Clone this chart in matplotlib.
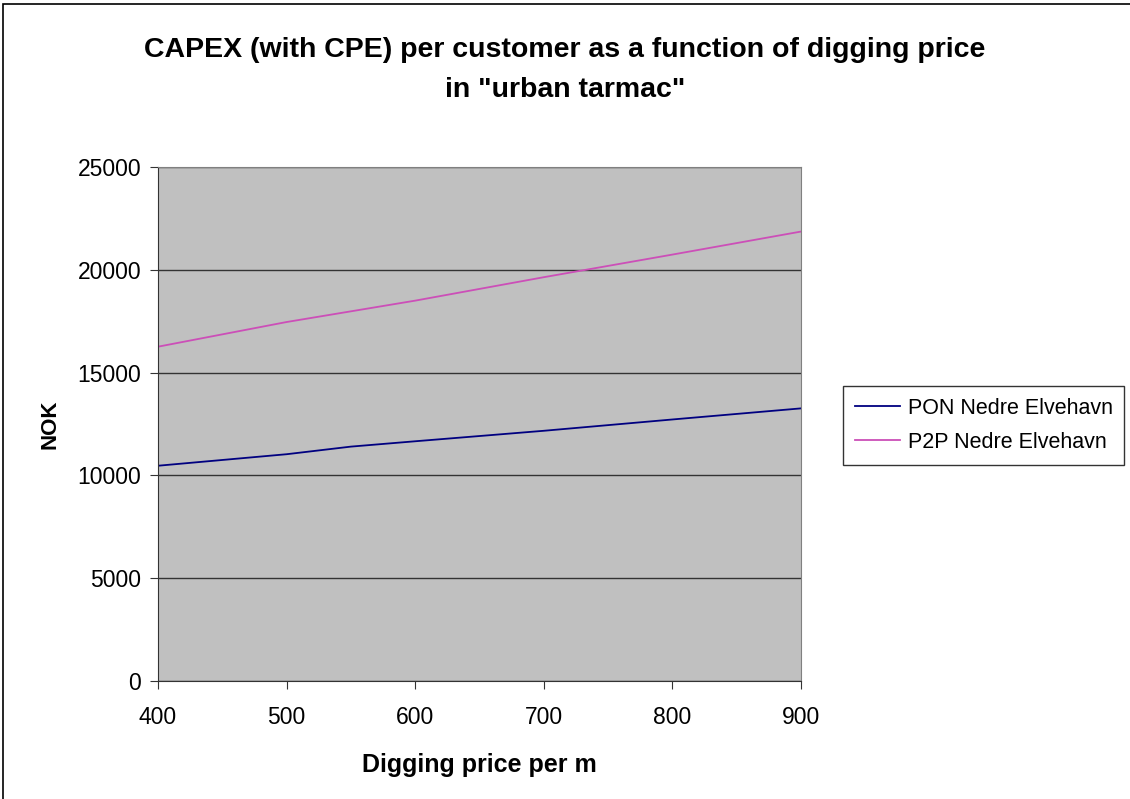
import matplotlib.pyplot as plt
from matplotlib.patches import Rectangle

plt.rcParams['font.family'] = ['Liberation Sans', 'DejaVu Sans']

# data
price = [400, 500, 550, 600, 700, 800, 900]
pon = [10470, 11030, 11400, 11660, 12170, 12720, 13260]
p2p = [16260, 17460, 17980, 18500, 19640, 20740, 21860]
series_names = ['PON Nedre Elvehavn', 'P2P Nedre Elvehavn']

fig = plt.figure(figsize=(11.3, 7.99), dpi=100)
ax = fig.add_axes([158 / 1130, 1 - 681 / 799, 643 / 1130, 514 / 799])

# outer chart border
fig.patches.append(Rectangle((3 / 1130, -0.01), 1.2, 1 - 4 / 799 + 0.01,
                             transform=fig.transFigure, fill=False,
                             edgecolor='black', linewidth=1.2))

ax.set_facecolor('#C0C0C0')
ax.plot(price, pon, color='#000080', linewidth=1.3, label=series_names[0])
ax.plot(price, p2p, color='#CC4FB8', linewidth=1.3, label=series_names[1])

ax.set_xlim(400, 900)
ax.set_ylim(0, 25000)
ax.set_xticks(range(400, 901, 100))
ax.set_yticks(range(0, 25001, 5000))
ax.grid(axis='y', color='#333333', linewidth=1.0)
ax.set_axisbelow(True)
ax.tick_params(labelsize=16.5, length=6, color='#333333')
ax.tick_params(axis='x', pad=12)
ax.tick_params(axis='y', pad=6)

for side in ['top', 'right']:
    ax.spines[side].set_color('#808080')
for side in ['left', 'bottom']:
    ax.spines[side].set_color('#333333')

ax.set_xlabel('Digging price per m', fontsize=18, fontweight='bold', labelpad=17)
ax.set_ylabel('NOK', fontsize=16, fontweight='bold', labelpad=12)

fig.text(0.5, 1 - 70 / 799, 'CAPEX (with CPE) per customer as a function of digging price\nin "urban tarmac"',
         ha='center', va='center', fontsize=20.5, fontweight='bold', linespacing=1.7)

leg = fig.legend(loc='upper left', bbox_to_anchor=(843 / 1130, 1 - 386 / 799),
                 fontsize=15.5, frameon=True, fancybox=False, handlelength=2.1,
                 borderpad=0.55, labelspacing=0.6, handletextpad=0.35,
                 borderaxespad=0)
leg.get_frame().set_edgecolor('black')
leg.get_frame().set_linewidth(1.0)

fig.savefig('out.png', dpi=100)
